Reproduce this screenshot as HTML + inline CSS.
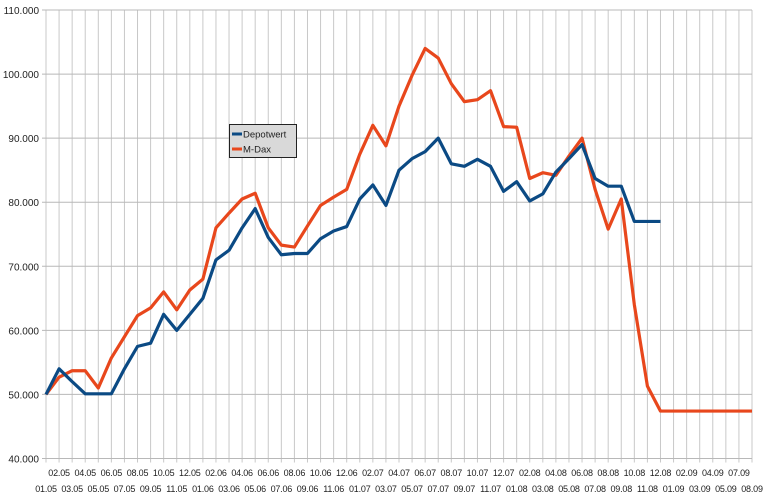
<!DOCTYPE html>
<html><head><meta charset="utf-8"><style>
body{margin:0;background:#fff}
svg text{font-family:"Liberation Sans",sans-serif;font-size:10px;fill:#222}
svg text.xl{font-size:9px;letter-spacing:-0.2px}
</style></head><body>
<svg id="c" width="770" height="497" xmlns="http://www.w3.org/2000/svg"></svg>
<script>
const categories=["01.05","02.05","03.05","04.05","05.05","06.05","07.05","08.05","09.05","10.05","11.05","12.05","01.06","02.06","03.06","04.06","05.06","06.06","07.06","08.06","09.06","10.06","11.06","12.06","01.07","02.07","03.07","04.07","05.07","06.07","07.07","08.07","09.07","10.07","11.07","12.07","01.08","02.08","03.08","04.08","05.08","06.08","07.08","08.08","09.08","10.08","11.08","12.08","01.09","02.09","03.09","04.09","05.09","07.09","08.09"];
const depotwert=[50000,54000,52000,50100,50100,50100,54000,57500,58000,62500,60000,62500,65000,71000,72500,76000,79000,74500,71800,72000,72000,74300,75500,76200,80500,82700,79500,85000,86800,87900,90000,86000,85600,86700,85600,81700,83200,80200,81300,84700,86800,89000,83700,82500,82500,77000,77000,77000];
const mdax=[50000,52700,53700,53700,51000,55700,59000,62300,63500,66000,63200,66300,68000,76000,78300,80500,81400,76000,73300,73000,76300,79500,80800,82000,87500,92000,88800,95000,99800,104000,102500,98500,95700,96000,97400,91800,91700,83700,84600,84200,87200,90000,82000,75800,80500,64000,51300,47400,47400,47400,47400,47400,47400,47400,47400];
const yTicks=[40000,50000,60000,70000,80000,90000,100000,110000];
const yTickLabels=["40.000","50.000","60.000","70.000","80.000","90.000","100.000","110.000"];

const svg=document.getElementById('c');
const NS='http://www.w3.org/2000/svg';
const X0=46,X1=752,Y0=458.5,Y1=10;
const xs=i=>X0+(X1-X0)*i/(categories.length-1);
const ys=v=>Y0-(v-40000)/(70000)*(Y0-Y1);
function mk(t,a){const e=document.createElementNS(NS,t);for(const k in a)e.setAttribute(k,a[k]);svg.appendChild(e);return e;}
categories.forEach((c,i)=>{
  const l=mk('line',{x1:xs(i),x2:xs(i),y1:Y1,y2:Y0+4,stroke:'#c8c8c8','stroke-width':1});
  
  
  const t=mk('text',{x:xs(i),y:i%2?476:492,'text-anchor':'middle','class':'xl'});
  t.textContent=c;
  
  
});
yTicks.forEach((v,i)=>{
  const l=mk('line',{x1:X0-4,x2:X1,y1:ys(v),y2:ys(v),stroke:'#b8b8b8','stroke-width':1});
  
  
  const t=mk('text',{x:X0-7,y:ys(v)+4,'text-anchor':'end'});
  t.textContent=yTickLabels[i];
  
  
});
function series(arr,col,name){
  const p=mk('polyline',{points:arr.map((v,i)=>xs(i)+','+ys(v)).join(' '),fill:'none',stroke:col,'stroke-width':3.2,'stroke-linejoin':'round'});
  
  
}
series(mdax,'#e8471c','mdax-line');
series(depotwert,'#0b4a84','depotwert-line');
const r=mk('rect',{x:229.5,y:124.5,width:67,height:33,fill:'#d9d9d9',stroke:'#222'});


[['Depotwert','#0b4a84',134],['M-Dax','#e8471c',149]].forEach(([n,c,y])=>{
  const l=mk('line',{x1:232,x2:242,y1:y,y2:y,stroke:c,'stroke-width':3});
  
  
  const t=mk('text',{x:243,y:y+3.5,style:'font-size:9.5px'});
  t.textContent=n;
  
  
});
</script>
</body></html>
